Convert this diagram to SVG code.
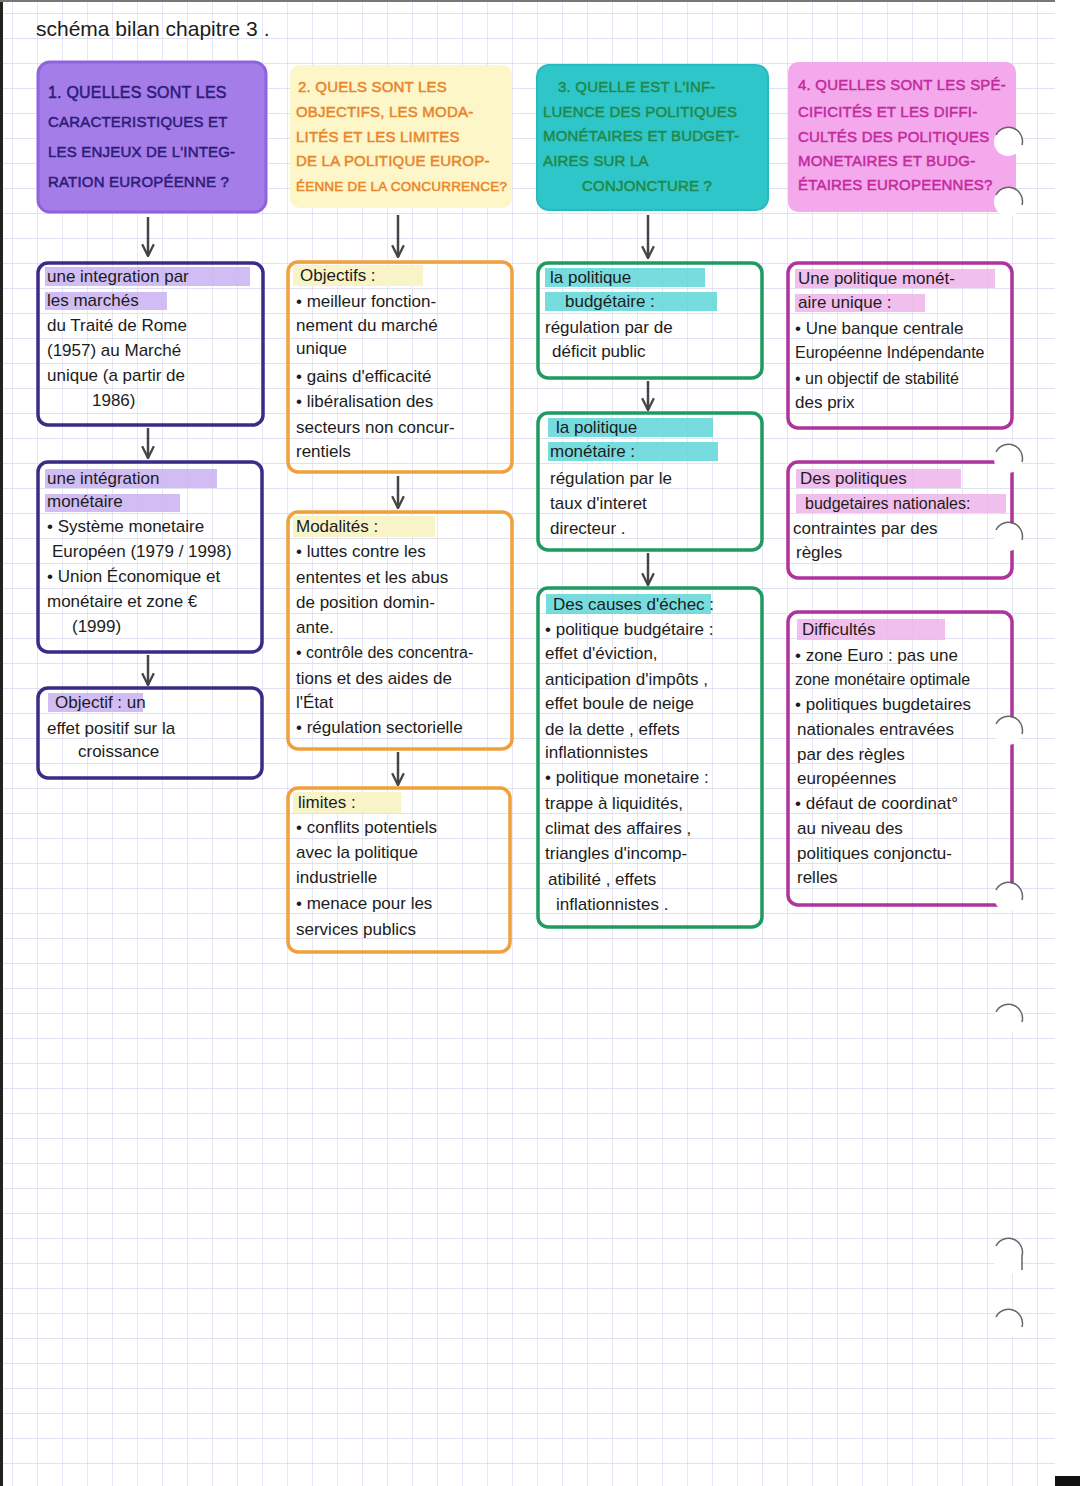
<svg xmlns="http://www.w3.org/2000/svg" width="1080" height="1486" viewBox="0 0 1080 1486">
<style>
.t{font-family:"Liberation Sans","DejaVu Sans",sans-serif;font-size:17px;fill:#1c1c1c}
.h{font-family:"Liberation Sans","DejaVu Sans",sans-serif;font-size:15px;letter-spacing:0.2px;stroke-width:0.5}
.h1{fill:#2d1b78;stroke:#2d1b78}.h2{fill:#e9852b;stroke:#e9852b}.h3{fill:#23884a;stroke:#23884a}.h4{fill:#c42a9c;stroke:#c42a9c}
.b1{fill:none;stroke:#3b2a86;stroke-width:3.5}
.b2{fill:none;stroke:#f0a03c;stroke-width:3.5}
.b3{fill:none;stroke:#1f9a62;stroke-width:3.5}
.b4{fill:none;stroke:#b0329c;stroke-width:3.5}
.m1{fill:#c9b2f2;opacity:0.85}.m2{fill:#f8f3c2;opacity:0.9}.m3{fill:#5fd6d8;opacity:0.85}.m4{fill:#efb4ea;opacity:0.85}
.c{stroke:#454545;stroke-width:2.5;fill:none}
.hole{fill:#ffffff}
.holeArc{fill:none;stroke:#666;stroke-width:1.5}
</style>
<defs>
<pattern id="grid" patternUnits="userSpaceOnUse" x="12" y="13" width="25" height="25">
<path d="M0 0 H25 M0 0 V25" stroke="#d8d8ee" stroke-width="1.3" fill="none"/>
</pattern>
<marker id="arr" viewBox="0 0 12 12" refX="11" refY="6" markerWidth="14" markerHeight="14" orient="auto" markerUnits="userSpaceOnUse">
<path d="M1,1 L11,6 L1,11" fill="none" stroke="#454545" stroke-width="2"/>
</marker>
</defs>
<rect width="1080" height="1486" fill="#ffffff"/>
<rect x="3" y="2" width="1052" height="1484" fill="url(#grid)"/>
<rect x="0" y="0" width="3" height="1486" fill="#222"/>
<rect x="0" y="0" width="1055" height="2" fill="#777"/>
<rect x="1055" y="1476" width="25" height="10" fill="#111"/>

<text x="36" y="36" class="t" style="font-size:21px">schéma bilan chapitre 3 .</text>

<g id="h1">
<rect x="38" y="62" width="228" height="150" rx="12" fill="#a57de9" stroke="#8f62de" stroke-width="3"/>
<text class="h h1"><tspan x="48" y="98" style="font-size:16px">1. QUELLES SONT LES</tspan><tspan x="48" y="127">CARACTERISTIQUES ET</tspan><tspan x="48" y="157">LES ENJEUX DE L'INTEG-</tspan><tspan x="48" y="187">RATION EUROPÉENNE ?</tspan></text>
</g>
<g id="h2">
<rect x="290" y="65" width="222" height="143" rx="10" fill="#fcf6c8"/>
<text class="h h2"><tspan x="298" y="92">2. QUELS SONT LES</tspan><tspan x="296" y="117">OBJECTIFS, LES MODA-</tspan><tspan x="296" y="142">LITÉS ET LES LIMITES</tspan><tspan x="296" y="166">DE LA POLITIQUE EUROP-</tspan><tspan x="296" y="191" style="font-size:13.5px">ÉENNE DE LA CONCURRENCE?</tspan></text>
</g>
<g id="h3">
<rect x="537" y="65" width="231" height="145" rx="12" fill="#2ec6c9" stroke="#27b9bd" stroke-width="2"/>
<text class="h h3"><tspan x="558" y="92">3. QUELLE EST L'INF-</tspan><tspan x="543" y="117">LUENCE DES POLITIQUES</tspan><tspan x="543" y="141">MONÉTAIRES ET BUDGET-</tspan><tspan x="543" y="166">AIRES SUR LA</tspan><tspan x="582" y="191">CONJONCTURE ?</tspan></text>
</g>
<g id="h4">
<rect x="788" y="62" width="228" height="150" rx="10" fill="#f3a9ec"/>
<text class="h h4"><tspan x="798" y="90">4. QUELLES SONT LES SPÉ-</tspan><tspan x="798" y="117">CIFICITÉS ET LES DIFFI-</tspan><tspan x="798" y="142">CULTÉS DES POLITIQUES</tspan><tspan x="798" y="166">MONETAIRES ET BUDG-</tspan><tspan x="798" y="190">ÉTAIRES EUROPEENNES?</tspan></text>
</g>

<g id="n1a">
<rect class="m1" x="45" y="267" width="205" height="19"/>
<rect class="m1" x="45" y="292" width="122" height="18"/>
<rect class="b1" x="38" y="263" width="225" height="162" rx="10"/>
<text class="t"><tspan x="47" y="282">une integration par</tspan><tspan x="47" y="306">les marchés</tspan><tspan x="47" y="331">du Traité de Rome</tspan><tspan x="47" y="356">(1957) au Marché</tspan><tspan x="47" y="381">unique (a partir de</tspan><tspan x="92" y="406">1986)</tspan></text>
</g>
<g id="n1b">
<rect class="m1" x="45" y="469" width="172" height="19"/>
<rect class="m1" x="45" y="494" width="135" height="18"/>
<rect class="b1" x="38" y="462" width="224" height="190" rx="10"/>
<text class="t"><tspan x="47" y="484">une intégration</tspan><tspan x="47" y="507">monétaire</tspan><tspan x="47" y="532">• Système monetaire</tspan><tspan x="52" y="557">Européen (1979 / 1998)</tspan><tspan x="47" y="582">• Union Économique et</tspan><tspan x="47" y="607">monétaire et zone €</tspan><tspan x="72" y="632">(1999)</tspan></text>
</g>
<g id="n1c">
<rect class="m1" x="48" y="693" width="95" height="19"/>
<rect class="b1" x="38" y="688" width="224" height="90" rx="10"/>
<text class="t"><tspan x="55" y="708">Objectif : un</tspan><tspan x="47" y="734">effet positif sur la</tspan><tspan x="78" y="757">croissance</tspan></text>
</g>

<g id="n2a">
<rect class="m2" x="293" y="265" width="130" height="21"/>
<rect class="b2" x="288" y="262" width="224" height="210" rx="10"/>
<text class="t"><tspan x="300" y="281">Objectifs :</tspan><tspan x="296" y="307">• meilleur fonction-</tspan><tspan x="296" y="331">nement du marché</tspan><tspan x="296" y="354">unique</tspan><tspan x="296" y="382">• gains d'efficacité</tspan><tspan x="296" y="407">• libéralisation des</tspan><tspan x="296" y="433">secteurs non concur-</tspan><tspan x="296" y="457">rentiels</tspan></text>
</g>
<g id="n2b">
<rect class="m2" x="293" y="516" width="142" height="21"/>
<rect class="b2" x="288" y="512" width="224" height="237" rx="10"/>
<text class="t"><tspan x="296" y="532">Modalités :</tspan><tspan x="296" y="557">• luttes contre les</tspan><tspan x="296" y="583">ententes et les abus</tspan><tspan x="296" y="608">de position domin-</tspan><tspan x="296" y="633">ante.</tspan><tspan x="296" y="658" style="font-size:16px">• contrôle des concentra-</tspan><tspan x="296" y="684">tions et des aides de</tspan><tspan x="296" y="708">l'État</tspan><tspan x="296" y="733">• régulation sectorielle</tspan></text>
</g>
<g id="n2c">
<rect class="m2" x="293" y="792" width="108" height="21"/>
<rect class="b2" x="288" y="788" width="222" height="164" rx="10"/>
<text class="t"><tspan x="298" y="808">limites :</tspan><tspan x="296" y="833">• conflits potentiels</tspan><tspan x="296" y="858">avec la politique</tspan><tspan x="296" y="883">industrielle</tspan><tspan x="296" y="909">• menace pour les</tspan><tspan x="296" y="935">services publics</tspan></text>
</g>

<g id="n3a">
<rect class="m3" x="545" y="268" width="160" height="19"/>
<rect class="m3" x="545" y="292" width="172" height="19"/>
<rect class="b3" x="538" y="263" width="224" height="115" rx="10"/>
<text class="t"><tspan x="550" y="283">la politique</tspan><tspan x="565" y="307">budgétaire :</tspan><tspan x="545" y="333">régulation par de</tspan><tspan x="552" y="357">déficit public</tspan></text>
</g>
<g id="n3b">
<rect class="m3" x="548" y="418" width="165" height="19"/>
<rect class="m3" x="548" y="442" width="170" height="19"/>
<rect class="b3" x="538" y="413" width="224" height="137" rx="10"/>
<text class="t"><tspan x="556" y="433">la politique</tspan><tspan x="550" y="457">monétaire :</tspan><tspan x="550" y="484">régulation par le</tspan><tspan x="550" y="509">taux d'interet</tspan><tspan x="550" y="534">directeur .</tspan></text>
</g>
<g id="n3c">
<rect class="m3" x="546" y="594" width="165" height="20"/>
<rect class="b3" x="538" y="588" width="224" height="339" rx="10"/>
<text class="t"><tspan x="553" y="610">Des causes d'échec :</tspan><tspan x="545" y="635">• politique budgétaire :</tspan><tspan x="545" y="659">effet d'éviction,</tspan><tspan x="545" y="685">anticipation d'impôts ,</tspan><tspan x="545" y="709">effet boule de neige</tspan><tspan x="545" y="735">de la dette , effets</tspan><tspan x="545" y="758">inflationnistes</tspan><tspan x="545" y="783">• politique monetaire :</tspan><tspan x="545" y="809">trappe à liquidités,</tspan><tspan x="545" y="834">climat des affaires ,</tspan><tspan x="545" y="859">triangles d'incomp-</tspan><tspan x="548" y="885">atibilité , effets</tspan><tspan x="556" y="910">inflationnistes .</tspan></text>
</g>

<g id="n4a">
<rect class="m4" x="795" y="269" width="200" height="19"/>
<rect class="m4" x="795" y="294" width="130" height="18"/>
<rect class="b4" x="788" y="263" width="224" height="165" rx="10"/>
<text class="t"><tspan x="798" y="284">Une politique monét-</tspan><tspan x="798" y="308">aire unique :</tspan><tspan x="795" y="334">• Une banque centrale</tspan><tspan x="795" y="358" style="font-size:16px">Européenne Indépendante</tspan><tspan x="795" y="384" style="font-size:16px">• un objectif de stabilité</tspan><tspan x="795" y="408">des prix</tspan></text>
</g>
<g id="n4b">
<rect class="m4" x="796" y="469" width="165" height="19"/>
<rect class="m4" x="796" y="494" width="210" height="19"/>
<rect class="b4" x="788" y="462" width="224" height="116" rx="10"/>
<text class="t"><tspan x="800" y="484">Des politiques</tspan><tspan x="805" y="509" style="font-size:16px">budgetaires nationales:</tspan><tspan x="793" y="534">contraintes par des</tspan><tspan x="796" y="558">règles</tspan></text>
</g>
<g id="n4c">
<rect class="m4" x="797" y="619" width="148" height="21"/>
<rect class="b4" x="788" y="612" width="224" height="293" rx="10"/>
<text class="t"><tspan x="802" y="635">Difficultés</tspan><tspan x="795" y="661">• zone Euro : pas une</tspan><tspan x="795" y="685" style="font-size:16px">zone monétaire optimale</tspan><tspan x="795" y="710">• politiques bugdetaires</tspan><tspan x="797" y="735">nationales entravées</tspan><tspan x="797" y="760">par des règles</tspan><tspan x="797" y="784">européennes</tspan><tspan x="795" y="809">• défaut de coordinat°</tspan><tspan x="797" y="834">au niveau des</tspan><tspan x="797" y="859">politiques conjonctu-</tspan><tspan x="797" y="883">relles</tspan></text>
</g>

<g id="connectors">
<line class="c" x1="148" y1="217" x2="148" y2="256" marker-end="url(#arr)"/>
<line class="c" x1="148" y1="428" x2="148" y2="458" marker-end="url(#arr)"/>
<line class="c" x1="148" y1="655" x2="148" y2="685" marker-end="url(#arr)"/>
<line class="c" x1="398" y1="215" x2="398" y2="257" marker-end="url(#arr)"/>
<line class="c" x1="398" y1="476" x2="398" y2="508" marker-end="url(#arr)"/>
<line class="c" x1="398" y1="752" x2="398" y2="785" marker-end="url(#arr)"/>
<line class="c" x1="648" y1="215" x2="648" y2="258" marker-end="url(#arr)"/>
<line class="c" x1="648" y1="381" x2="648" y2="410" marker-end="url(#arr)"/>
<line class="c" x1="648" y1="553" x2="648" y2="585" marker-end="url(#arr)"/>
</g>

<g id="holes">
<circle class="hole" cx="1008" cy="142" r="14"/><path class="holeArc" d="M996 135 A14 14 0 0 1 1022 145"/>
<circle class="hole" cx="1008" cy="202" r="14"/><path class="holeArc" d="M996 195 A14 14 0 0 1 1022 205"/>
<circle class="hole" cx="1008" cy="459" r="14"/><path class="holeArc" d="M996 452 A14 14 0 0 1 1022 462"/>
<circle class="hole" cx="1008" cy="537" r="14"/><path class="holeArc" d="M996 530 A14 14 0 0 1 1022 540"/>
<circle class="hole" cx="1008" cy="731" r="14"/><path class="holeArc" d="M996 724 A14 14 0 0 1 1022 734"/>
<circle class="hole" cx="1008" cy="897" r="14"/><path class="holeArc" d="M996 890 A14 14 0 0 1 1022 900"/>
<circle class="hole" cx="1008" cy="1019" r="14"/><path class="holeArc" d="M996 1012 A14 14 0 0 1 1022 1022"/>
<rect class="hole" x="994" y="1239" width="28" height="36" rx="14"/><path class="holeArc" d="M996 1246 A14 14 0 0 1 1022 1256 V1270"/>
<circle class="hole" cx="1008" cy="1324" r="14"/><path class="holeArc" d="M996 1317 A14 14 0 0 1 1022 1327"/>
</g>
</svg>
